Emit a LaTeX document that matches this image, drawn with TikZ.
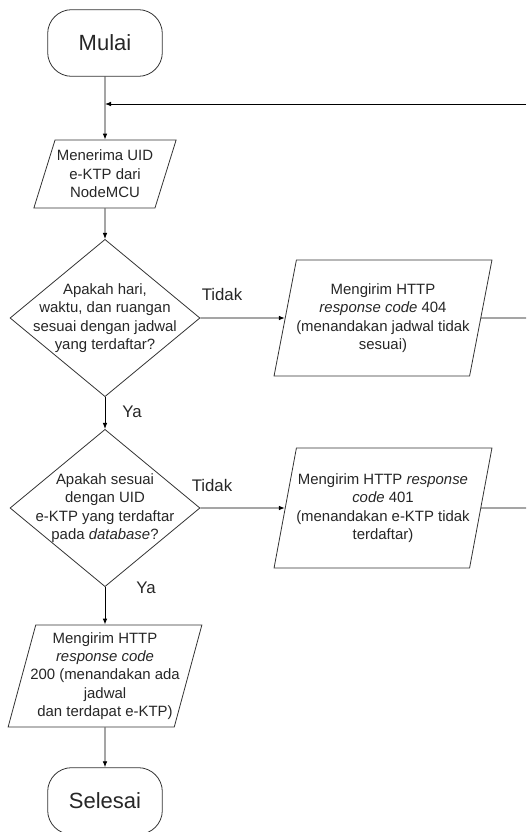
\documentclass[tikz,border=0pt]{standalone}
\usepackage{fontspec}
\setmainfont{Liberation Sans}
\usetikzlibrary{shapes.geometric}
\usetikzlibrary{arrows.meta}

\begin{document}
\begin{tikzpicture}[x=0.75pt, y=-0.75pt,
    terminal/.style={rectangle, rounded corners=18pt, draw=black!80, line width=0.6pt, minimum width=86pt, minimum height=50pt, text=black!85, font=\fontsize{16.5}{20}\selectfont},
    io/.style={trapezium, trapezium left angle=76, trapezium right angle=104, trapezium stretches=true, draw=black!80, line width=0.6pt, inner xsep=-15pt, inner ysep=0pt, align=center, text=black!85, font=\fontsize{11.2}{13.8}\selectfont},
    decision/.style={diamond, aspect=1.2, draw=black!80, line width=0.6pt, inner sep=-10pt, minimum width=142.5pt, minimum height=118pt, align=center, text=black!85, font=\fontsize{11.2}{13.8}\selectfont},
    answer/.style={text=black!85, font=\fontsize{12.6}{15}\selectfont},
    line/.style={draw=black, line width=0.7pt},
    flow/.style={line, -{Latex[length=4.5pt, width=3.5pt]}}]
  \useasboundingbox (0,0) rectangle (526,832);

  % main column
  \node[terminal] (mulai) at (105,43) {Mulai};
  \node[io, minimum width=107pt, minimum height=51pt] (terima) at (105,174)
    {Menerima UID\\e-KTP dari\\NodeMCU};
  \node[decision] (cek1) at (105,318)
    {Apakah hari,\\waktu, dan ruangan\\sesuai dengan jadwal\\yang terdaftar?};
  \node[decision] (cek2) at (105,508)
    {Apakah sesuai\\dengan UID\\e-KTP yang terdaftar\\pada \textit{database}?};
  \node[io, minimum width=145.5pt, minimum height=76.5pt] (kirim) at (105,676)
    {Mengirim HTTP\\\textit{response code}\\200 (menandakan ada\\jadwal\\dan terdapat e-KTP)};
  \node[terminal] (selesai) at (105,801) {Selesai};

  % rejected branches
  \node[io, minimum width=163.5pt, minimum height=87pt] (tolak1) at (383,318)
    {Mengirim HTTP\\\textit{response code} 404\\(menandakan jadwal tidak\\sesuai)};
  \node[io, minimum width=163.5pt, minimum height=90pt] (tolak2) at (383,508)
    {Mengirim HTTP \textit{response}\\\textit{code} 401\\(menandakan e-KTP tidak\\terdaftar)};

  \node[answer] (tidak1) at (222,294) {Tidak};
  \node[answer] (ya1) at (132,412) {Ya};
  \node[answer] (tidak2) at (212,485) {Tidak};
  \node[answer] (ya2) at (146,588) {Ya};

  \coordinate (keluar1) at (526,318);
  \coordinate (keluar2) at (526,508);
  \coordinate (masuk) at (526,104);
  \coordinate (gabung) at (105,104);

  \draw[flow] (mulai) -- (terima);
  \draw[flow] (terima) -- (cek1);
  \draw[flow] (cek1) -- (tolak1);
  \draw[flow] (cek1) -- (cek2);
  \draw[flow] (cek2) -- (tolak2);
  \draw[flow] (cek2) -- (kirim);
  \draw[flow] (kirim) -- (selesai);
  \draw[line] (tolak1) -- (keluar1);
  \draw[line] (tolak2) -- (keluar2);
  \draw[flow] (masuk) -- (gabung);
\end{tikzpicture}
\end{document}
